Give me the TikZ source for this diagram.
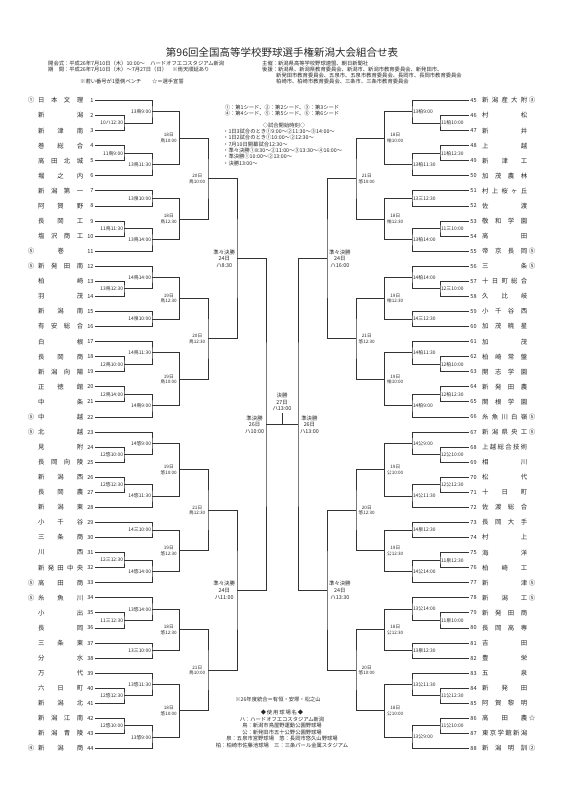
\documentclass[tikz,border=0pt]{standalone}
\usepackage{fontspec}
\setmainfont{Noto Sans CJK JP}
\usetikzlibrary{calc}

% spread the letters of a school name over a fixed width
\newcommand\spreadbox[1]{\makebox[45pt][s]{\spreadaux#1\relax}}
\long\def\spreadgob#1{}
\long\def\spreadone#1{#1}
\def\spreadaux#1#2{#1\ifx\relax#2\expandafter\spreadgob\else\hfill\expandafter\spreadone\fi{\spreadaux#2}}

% teams: coordinate at the start of the team line, number and name
\newcommand\lteam[2]{%
  \coordinate (L#1) at (95,{100.5+(#1-1)*15.07});
  \node[num,anchor=east] (L#1n) at ([xshift=-1.2]L#1) {#1};
  \node[tm,anchor=west] (L#1t) at (38,{100.5+(#1-1)*15.07}) {\spreadbox{#2}};}
\newcommand\lseed[2]{\node[tm] (L#1s) at (31,{100.5+(#1-1)*15.07}) {#2};}
\newcommand\rteam[2]{%
  \coordinate (R#1) at (469,{100.5+(#1-45)*15.07});
  \node[num,anchor=west] (R#1n) at ([xshift=1.2]R#1) {#1};
  \node[tm,anchor=west] (R#1t) at (482,{100.5+(#1-45)*15.07}) {\spreadbox{#2}};}
\newcommand\rseed[2]{\node[tm] (R#1s) at (532,{100.5+(#1-45)*15.07}) {#2};}

% matches: two inputs, column, winner, label style, label
\newcommand\lmatch[6]{%
  \coordinate (#4m) at ($(#1)!0.5!(#2)$);
  \coordinate (#4) at (#4m -| #3);
  \draw[bk] (#1) -| (#4) |- (#2);
  \node[#5,anchor=east] (#4t) at (#4) {#6};}
\newcommand\rmatch[6]{%
  \coordinate (#4m) at ($(#1)!0.5!(#2)$);
  \coordinate (#4) at (#4m -| #3);
  \draw[bk] (#1) -| (#4) |- (#2);
  \node[#5,anchor=west] (#4t) at (#4) {#6};}

\begin{document}
\begin{tikzpicture}[x=1pt,y=-1pt,
  bk/.style={line width=0.9pt,draw=black!80},
  tm/.style={font=\fontsize{6.4}{7}\selectfont,text=black!85,inner sep=0pt},
  num/.style={font=\fontsize{5.6}{6}\selectfont,text=black!85,inner sep=0pt},
  lab/.style={font=\fontsize{4.9}{5.5}\selectfont,text=black!85,inner ysep=0pt,inner xsep=0.8pt},
  day/.style={font=\fontsize{4.6}{5.6}\selectfont,text=black!85,align=center,inner ysep=0pt,inner xsep=2.5pt},
  rnd/.style={font=\fontsize{5.4}{6.6}\selectfont,text=black!85,align=center,inner ysep=0pt,inner xsep=1.8pt},
  leg/.style={font=\fontsize{5.3}{6}\selectfont,text=black!85,inner sep=0pt},
  hd/.style={font=\fontsize{5.3}{6}\selectfont,text=black!85,inner sep=0pt,anchor=west}]
\useasboundingbox (0,0) rectangle (565,800);

% title and header
\node[font=\fontsize{10.5}{12}\selectfont,text=black!85,inner sep=0pt] (title) at (282,53) {第96回全国高等学校野球選手権新潟大会組合せ表};
\node[hd] (open) at (48,63) {開会式：平成26年7月10日（木）10:00～　ハードオフエコスタジアム新潟};
\node[hd] (period) at (48,69.5) {期　間：平成26年7月10日（木）～7月27日（日）　※雨天順延あり};
\node[hd] (bench) at (80,81) {※若い番号が1塁側ベンチ　　☆＝選手宣誓};
\node[hd] (host) at (262,63) {主催：新潟県高等学校野球連盟、朝日新聞社};
\node[hd] (sup1) at (262,69.5) {後援：新潟県、新潟県教育委員会、新潟市、新潟市教育委員会、新発田市、};
\node[hd] (sup2) at (276,75.5) {新発田市教育委員会、五泉市、五泉市教育委員会、長岡市、長岡市教育委員会};
\node[hd] (sup3) at (276,81.5) {柏崎市、柏崎市教育委員会、三条市、三条市教育委員会};

% legend
\node[leg] (seed1) at (282,107) {①：第1シード、②：第2シード、③：第3シード};
\node[leg] (seed2) at (282,113.5) {④：第4シード、⑤：第5シード、⑥：第6シード};
\node[leg] (time0) at (284,125.5) {◇試合開始時刻◇};
\node[leg,anchor=west] (time1) at (223,131.5) {・1日3試合のとき①9:00～②11:30～③14:00～};
\node[leg,anchor=west] (time2) at (223,137.8) {・1日2試合のとき①10:00～②12:30～};
\node[leg,anchor=west] (time3) at (223,144.1) {・7月10日開幕試合12:30～};
\node[leg,anchor=west] (time4) at (223,150.4) {・準々決勝①8:30～②11:00～③13:30～④16:00～};
\node[leg,anchor=west] (time5) at (223,156.7) {・準決勝①10:00～②13:00～};
\node[leg,anchor=west] (time6) at (223,163) {・決勝13:00～};

% columns
\coordinate (cL1) at (124,0);
\coordinate (cL2) at (152,0);
\coordinate (cL3) at (179.5,0);
\coordinate (cL4) at (208,0);
\coordinate (cLQ) at (237,0);
\coordinate (cLS) at (266,0);
\coordinate (cR1) at (440,0);
\coordinate (cR2) at (412,0);
\coordinate (cR3) at (384.5,0);
\coordinate (cR4) at (356,0);
\coordinate (cRQ) at (327,0);
\coordinate (cRS) at (298,0);

% left teams
\lteam{1}{日本文理}\lseed{1}{①}
\lteam{2}{新潟}
\lteam{3}{新津南}
\lteam{4}{巻総合}
\lteam{5}{高田北城}
\lteam{6}{堀之内}
\lteam{7}{新潟第一}
\lteam{8}{阿賀野}
\lteam{9}{長岡工}
\lteam{10}{塩沢商工}
\lteam{11}{\hfil 巻\hfil}\lseed{11}{⑤}
\lteam{12}{新発田南}\lseed{12}{⑤}
\lteam{13}{柏崎}
\lteam{14}{羽茂}
\lteam{15}{新潟南}
\lteam{16}{有安総合}
\lteam{17}{白根}
\lteam{18}{長岡商}
\lteam{19}{新潟向陽}
\lteam{20}{正徳館}
\lteam{21}{中条}
\lteam{22}{中越}\lseed{22}{⑤}
\lteam{23}{北越}\lseed{23}{⑤}
\lteam{24}{見附}
\lteam{25}{長岡向陵}
\lteam{26}{新潟西}
\lteam{27}{長岡農}
\lteam{28}{新潟東}
\lteam{29}{小千谷}
\lteam{30}{三条商}
\lteam{31}{川西}
\lteam{32}{新発田中央}
\lteam{33}{高田商}\lseed{33}{⑤}
\lteam{34}{糸魚川}\lseed{34}{⑤}
\lteam{35}{小出}
\lteam{36}{長岡}
\lteam{37}{三条東}
\lteam{38}{分水}
\lteam{39}{万代}
\lteam{40}{六日町}
\lteam{41}{新潟北}
\lteam{42}{新潟江南}
\lteam{43}{新潟青陵}
\lteam{44}{新潟商}\lseed{44}{④}

% right teams
\rteam{45}{新潟産大附}\rseed{45}{③}
\rteam{46}{村松}
\rteam{47}{新井}
\rteam{48}{上越}
\rteam{49}{新津工}
\rteam{50}{加茂農林}
\rteam{51}{村上桜ヶ丘}
\rteam{52}{佐渡}
\rteam{53}{敬和学園}
\rteam{54}{高田}
\rteam{55}{帝京長岡}\rseed{55}{⑤}
\rteam{56}{三条}\rseed{56}{⑤}
\rteam{57}{十日町総合}
\rteam{58}{久比岐}
\rteam{59}{小千谷西}
\rteam{60}{加茂暁星}
\rteam{61}{加茂}
\rteam{62}{柏崎常盤}
\rteam{63}{開志学園}
\rteam{64}{新発田農}
\rteam{65}{関根学園}
\rteam{66}{糸魚川白嶺}\rseed{66}{⑤}
\rteam{67}{新潟県央工}\rseed{67}{⑤}
\rteam{68}{上越総合技術}
\rteam{69}{相川}
\rteam{70}{松代}
\rteam{71}{十日町}
\rteam{72}{佐渡総合}
\rteam{73}{長岡大手}
\rteam{74}{村上}
\rteam{75}{海洋}
\rteam{76}{柏崎工}
\rteam{77}{新津}\rseed{77}{⑤}
\rteam{78}{新潟工}\rseed{78}{⑤}
\rteam{79}{新発田商}
\rteam{80}{長岡高専}
\rteam{81}{吉田}
\rteam{82}{豊栄}
\rteam{83}{五泉}
\rteam{84}{新発田}
\rteam{85}{阿賀黎明}
\rteam{86}{高田農}\rseed{86}{☆}
\rteam{87}{東京学館新潟}
\rteam{88}{新潟明訓}\rseed{88}{②}

% left half
\lmatch{L2}{L3}{cL1}{a1}{lab}{10ハ12:30}
\lmatch{L1}{a1}{cL2}{b1}{lab}{13鳥9:00}
\lmatch{L4}{L5}{cL1}{a2}{lab}{11鳥9:00}
\lmatch{a2}{L6}{cL2}{b2}{lab}{13鳥11:30}
\lmatch{L7}{L8}{cL2}{b3}{lab}{13泉10:00}
\lmatch{L9}{L10}{cL1}{a4}{lab}{11鳥11:30}
\lmatch{a4}{L11}{cL2}{b4}{lab}{13鳥14:00}
\lmatch{b1}{b2}{cL3}{c1}{day}{18日\\鳥10:00}
\lmatch{b3}{b4}{cL3}{c2}{day}{18日\\鳥12:30}
\lmatch{c1}{c2}{cL4}{d1}{day}{20日\\鳥10:00}

\lmatch{L13}{L14}{cL1}{a5}{lab}{13鳥12:30}
\lmatch{L12}{a5}{cL2}{b5}{lab}{14鳥14:00}
\lmatch{L15}{L16}{cL2}{b6}{lab}{14泉10:00}
\lmatch{L18}{L19}{cL1}{a7}{lab}{12鳥10:00}
\lmatch{L17}{a7}{cL2}{b7}{lab}{14鳥11:30}
\lmatch{L20}{L21}{cL1}{a8}{lab}{12鳥14:00}
\lmatch{a8}{L22}{cL2}{b8}{lab}{14鳥9:00}
\lmatch{b5}{b6}{cL3}{c3}{day}{19日\\鳥12:30}
\lmatch{b7}{b8}{cL3}{c4}{day}{19日\\鳥10:00}
\lmatch{c3}{c4}{cL4}{d2}{day}{20日\\鳥12:30}
\lmatch{d1}{d2}{cLQ}{q1}{rnd}{準々決勝\\24日\\ハ8:30}

\lmatch{L24}{L25}{cL1}{a9}{lab}{12悠10:00}
\lmatch{L23}{a9}{cL2}{b9}{lab}{14悠9:00}
\lmatch{L26}{L27}{cL1}{a10}{lab}{12悠12:30}
\lmatch{a10}{L28}{cL2}{b10}{lab}{14悠11:30}
\lmatch{L29}{L30}{cL2}{b11}{lab}{14三10:00}
\lmatch{L31}{L32}{cL1}{a12}{lab}{12三12:30}
\lmatch{a12}{L33}{cL2}{b12}{lab}{14悠14:00}
\lmatch{b9}{b10}{cL3}{c5}{day}{19日\\悠10:00}
\lmatch{b11}{b12}{cL3}{c6}{day}{19日\\悠12:30}
\lmatch{c5}{c6}{cL4}{d3}{day}{21日\\鳥12:30}

\lmatch{L35}{L36}{cL1}{a13}{lab}{11三12:30}
\lmatch{L34}{a13}{cL2}{b13}{lab}{13悠14:00}
\lmatch{L37}{L38}{cL2}{b14}{lab}{13三10:00}
\lmatch{L40}{L41}{cL1}{a15}{lab}{12悠12:30}
\lmatch{L39}{a15}{cL2}{b15}{lab}{13悠11:30}
\lmatch{L42}{L43}{cL1}{a16}{lab}{12悠10:00}
\lmatch{a16}{L44}{cL2}{b16}{lab}{13悠9:00}
\lmatch{b13}{b14}{cL3}{c7}{day}{18日\\悠12:30}
\lmatch{b15}{b16}{cL3}{c8}{day}{18日\\悠10:00}
\lmatch{c7}{c8}{cL4}{d4}{day}{21日\\鳥10:00}
\lmatch{d3}{d4}{cLQ}{q2}{rnd}{準々決勝\\24日\\ハ11:00}
\lmatch{q1}{q2}{cLS}{sL}{rnd}{準決勝\\26日\\ハ10:00}

% right half
\rmatch{R46}{R47}{cR1}{ra1}{lab}{11柏10:00}
\rmatch{R45}{ra1}{cR2}{rb1}{lab}{13柏9:00}
\rmatch{R48}{R49}{cR1}{ra2}{lab}{11柏12:30}
\rmatch{ra2}{R50}{cR2}{rb2}{lab}{13柏11:30}
\rmatch{R51}{R52}{cR2}{rb3}{lab}{13三12:30}
\rmatch{R53}{R54}{cR1}{ra4}{lab}{11三10:00}
\rmatch{ra4}{R55}{cR2}{rb4}{lab}{13柏14:00}
\rmatch{rb1}{rb2}{cR3}{rc1}{day}{18日\\柏10:00}
\rmatch{rb3}{rb4}{cR3}{rc2}{day}{18日\\柏12:30}
\rmatch{rc1}{rc2}{cR4}{rd1}{day}{21日\\悠10:00}

\rmatch{R57}{R58}{cR1}{ra5}{lab}{12三10:00}
\rmatch{R56}{ra5}{cR2}{rb5}{lab}{14柏14:00}
\rmatch{R59}{R60}{cR2}{rb6}{lab}{14三12:30}
\rmatch{R62}{R63}{cR1}{ra7}{lab}{12柏10:00}
\rmatch{R61}{ra7}{cR2}{rb7}{lab}{14柏11:30}
\rmatch{R64}{R65}{cR1}{ra8}{lab}{12柏12:30}
\rmatch{ra8}{R66}{cR2}{rb8}{lab}{14柏9:00}
\rmatch{rb5}{rb6}{cR3}{rc3}{day}{19日\\柏12:30}
\rmatch{rb7}{rb8}{cR3}{rc4}{day}{19日\\柏10:00}
\rmatch{rc3}{rc4}{cR4}{rd2}{day}{21日\\悠12:30}
\rmatch{rd1}{rd2}{cRQ}{rq1}{rnd}{準々決勝\\24日\\ハ16:00}

\rmatch{R68}{R69}{cR1}{ra9}{lab}{12公10:00}
\rmatch{R67}{ra9}{cR2}{rb9}{lab}{14公9:00}
\rmatch{R70}{R71}{cR1}{ra10}{lab}{12公12:30}
\rmatch{ra10}{R72}{cR2}{rb10}{lab}{14公11:30}
\rmatch{R73}{R74}{cR2}{rb11}{lab}{14泉12:30}
\rmatch{R75}{R76}{cR1}{ra12}{lab}{11泉12:30}
\rmatch{ra12}{R77}{cR2}{rb12}{lab}{14公14:00}
\rmatch{rb9}{rb10}{cR3}{rc5}{day}{19日\\公10:00}
\rmatch{rb11}{rb12}{cR3}{rc6}{day}{19日\\公12:30}
\rmatch{rc5}{rc6}{cR4}{rd3}{day}{20日\\悠12:30}

\rmatch{R79}{R80}{cR1}{ra13}{lab}{11泉10:00}
\rmatch{R78}{ra13}{cR2}{rb13}{lab}{13公14:00}
\rmatch{R81}{R82}{cR2}{rb14}{lab}{13泉12:30}
\rmatch{R84}{R85}{cR1}{ra15}{lab}{11公12:30}
\rmatch{R83}{ra15}{cR2}{rb15}{lab}{13公11:30}
\rmatch{R86}{R87}{cR1}{ra16}{lab}{11公10:00}
\rmatch{ra16}{R88}{cR2}{rb16}{lab}{13公9:00}
\rmatch{rb13}{rb14}{cR3}{rc7}{day}{18日\\公12:30}
\rmatch{rb15}{rb16}{cR3}{rc8}{day}{18日\\公10:00}
\rmatch{rc7}{rc8}{cR4}{rd4}{day}{20日\\悠10:00}
\rmatch{rd3}{rd4}{cRQ}{rq2}{rnd}{準々決勝\\24日\\ハ13:30}
\rmatch{rq1}{rq2}{cRS}{sR}{rnd}{準決勝\\26日\\ハ13:00}

% final
\coordinate (fin) at ($(sL)!0.5!(sR)$);
\coordinate (fintop) at ([yshift=12pt]fin);
\draw[bk] (sL) -- (sR);
\draw[bk] (fin) -- (fintop);
\node[rnd,anchor=south,inner ysep=1.5pt] (fint) at (fintop) {決勝\\27日\\ハ13:00};

% footer
\node[leg] (note) at (278,699) {※26年度統合＝有恒・安塚・松之山};
\node[leg] (fld0) at (282,712.5) {◆\,使\,用\,球\,場\,名\,◆};
\node[leg] (fld1) at (282,719) {ハ：ハードオフエコスタジアム新潟};
\node[leg] (fld2) at (282,725.5) {鳥：新潟市鳥屋野運動公園野球場};
\node[leg] (fld3) at (282,732) {公：新発田市五十公野公園野球場};
\node[leg] (fld4) at (282,738.5) {泉：五泉市営野球場　悠：長岡市悠久山野球場};
\node[leg] (fld5) at (282,745) {柏：柏崎市佐藤池球場　三：三条パール金属スタジアム};
\end{tikzpicture}
\end{document}
